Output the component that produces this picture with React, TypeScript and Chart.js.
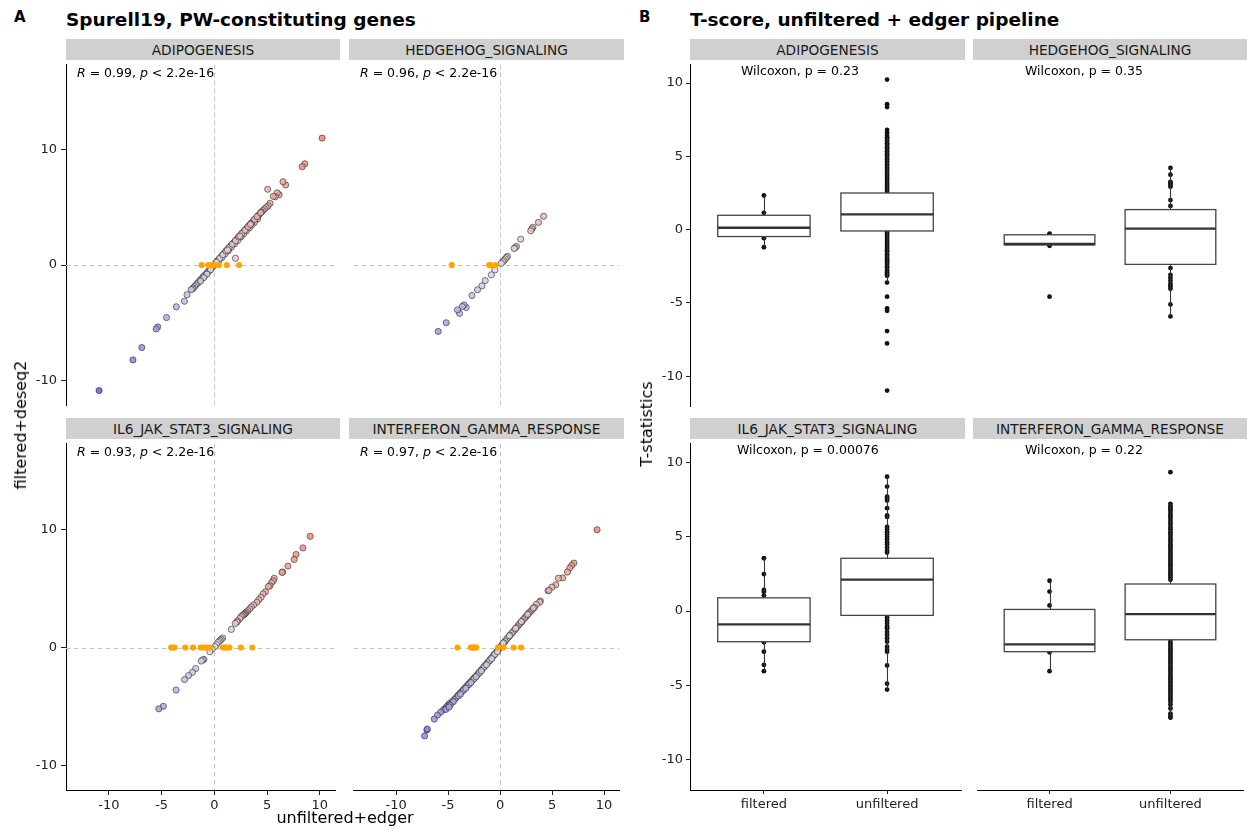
import React, { useEffect, useRef } from "react";
import { Chart, registerables } from "chart.js";
Chart.register(...registerables);

const FONT = "'DejaVu Sans', 'Liberation Sans', sans-serif";
const INK = "#222";

// ---------- labels ----------
const pathways = ["ADIPOGENESIS", "HEDGEHOG_SIGNALING", "IL6_JAK_STAT3_SIGNALING", "INTERFERON_GAMMA_RESPONSE"];
const corrR = ["0.99", "0.96", "0.93", "0.97"];
const wilcoxonP = ["0.23", "0.35", "0.00076", "0.22"];
const groupLabels = ["filtered", "unfiltered"];
const xTicksA = [-10, -5, 0, 5, 10];
const yTicksA = [-10, 0, 10];
const yTicksB = [-10, -5, 0, 5, 10];

// ---------- panel A: genes (unfiltered+edger t, filtered+deseq2 t) ----------
const adipoGenes: [number, number][] = [
  [10.22, 10.97], [8.58, 8.75], [8.33, 8.5], [6.76, 6.92], [6.51, 7.2], [6.14, 6.08], [5.96, 6.24], [5.78, 5.9], [5.59, 5.94], [5.06, 6.55],
  [5.28, 5.34], [5.1, 5.12], [4.92, 4.98], [4.75, 4.85], [4.6, 4.7], [4.45, 4.58], [4.32, 4.45], [4.2, 4.3], [4.08, 4.15], [3.95, 4.05],
  [3.85, 3.92], [3.72, 3.82], [3.6, 3.7], [3.5, 3.6], [3.38, 3.48], [3.25, 3.36], [3.15, 3.25], [3.05, 3.14], [2.95, 3.05], [2.85, 2.95],
  [2.75, 2.86], [2.65, 2.76], [2.55, 2.66], [2.46, 2.56], [2.36, 2.46], [2.26, 2.36], [2.16, 2.26], [2.06, 2.16], [1.96, 2.05], [1.86, 1.95],
  [1.76, 1.85], [1.66, 1.75], [1.56, 1.65], [1.46, 1.55], [1.36, 1.45], [1.26, 1.35], [1.16, 1.24], [1.06, 1.14], [0.96, 1.04], [0.86, 0.93],
  [0.76, 0.83], [0.66, 0.72], [0.56, 0.62], [0.46, 0.52], [0.36, 0.42], [0.26, 0.31], [0.16, 0.2], [0.06, 0.1],
  [4.1, 3.98], [3.8, 3.68], [3.55, 3.45], [3.3, 3.2], [3.02, 2.94], [2.78, 2.68], [2.5, 2.42], [2.22, 2.12], [1.92, 1.84], [1.62, 1.54],
  [1.32, 1.24], [1.02, 0.95], [0.72, 0.66], [0.42, 0.36],
  [0.5, 0.58], [0.8, 0.9], [1.1, 1.22], [1.4, 1.52], [1.7, 1.82], [2.0, 2.12], [2.3, 2.44], [2.6, 2.74], [2.9, 3.02], [3.2, 3.32],
  [3.5, 3.63], [3.8, 3.95], [4.05, 4.2], [4.4, 4.52], [0.2, 0.26], [1.25, 1.3], [2.42, 2.5], [3.42, 3.52],
  [2.0, 0.59],
  [-0.08, -0.06], [-0.18, -0.17], [-0.3, -0.28], [-0.4, -0.39], [-0.52, -0.5], [-0.62, -0.6], [-0.72, -0.71], [-0.84, -0.82], [-0.95, -0.93],
  [-1.05, -1.02], [-1.15, -1.12], [-1.28, -1.24], [-1.4, -1.35], [-1.52, -1.5], [-1.62, -1.6], [-1.75, -1.72], [-1.88, -1.85], [-2.0, -1.98],
  [-2.07, -2.05], [-2.2, -2.12], [-0.35, -0.4], [-0.7, -0.78], [-1.0, -1.08], [-1.3, -1.38],
  [-2.59, -2.56], [-2.84, -3.12], [-3.61, -3.6], [-4.54, -4.53], [-5.37, -5.34], [-5.52, -5.51], [-6.88, -7.12], [-7.72, -8.19], [-10.93, -10.83],
];
const adipoFiltered = [-1.2, -0.59, -0.3, -0.06, 0.43, 1.17, 2.35];

const hedgeGenes: [number, number][] = [
  [4.19, 4.22], [3.69, 3.69], [3.16, 3.27], [3.05, 3.12], [2.95, 2.96], [1.98, 2.24], [1.58, 1.62], [1.45, 1.5], [1.36, 1.43], [0.71, 0.76],
  [0.6, 0.65], [0.5, 0.53], [0.37, 0.39], [0.25, 0.28], [0.12, 0.15], [-0.5, -0.42], [-0.84, -0.84], [-1.43, -1.34], [-1.74, -1.79], [-2.17, -2.13],
  [-2.7, -2.63], [-3.26, -3.66], [-3.47, -3.44], [-3.63, -3.58], [-3.9, -4.17], [-4.09, -3.86], [-5.18, -4.98], [-5.95, -5.73],
];
const hedgeFiltered = [-4.65, -1.05, -0.92, -0.43];

const il6Genes: [number, number][] = [
  [9.09, 9.44], [8.4, 8.46], [7.75, 7.9], [7.57, 7.48], [6.98, 6.92], [6.48, 6.41], [6.42, 6.38], [5.67, 5.88], [5.58, 5.66], [5.42, 5.5],
  [5.27, 5.24], [5.12, 5.18], [4.84, 4.73], [4.62, 4.55], [4.43, 4.26], [4.2, 4.05], [4.03, 3.84], [3.72, 3.61], [3.5, 3.45], [3.35, 3.28],
  [3.18, 3.12], [3.04, 3.0], [2.95, 2.92], [2.88, 2.84], [2.8, 2.8], [2.73, 2.76], [2.62, 2.68], [2.52, 2.6], [2.4, 2.45], [2.2, 2.25],
  [2.14, 2.16], [1.98, 2.04], [1.61, 1.54], [0.78, 0.81], [0.66, 0.7], [0.56, 0.62], [0.45, 0.52], [0.34, 0.42], [0.2, 0.25], [0.06, 0.08],
  [-0.22, -0.14], [-0.43, -0.36], [-0.99, -1.01], [-1.1, -1.05], [-1.24, -1.15], [-1.77, -1.79], [-2.08, -2.1], [-2.45, -2.38], [-2.82, -2.72],
  [-3.63, -3.61], [-4.84, -4.99], [-5.27, -5.21],
];
const il6Filtered = [-4.09, -3.95, -3.78, -2.76, -2.02, -1.3, -1.05, -0.81, -0.43, 0.81, 1.02, 1.2, 1.43, 2.51, 3.6];

const ifngGenes: [number, number][] = [
  [9.33, 10.0], [7.1, 7.17], [6.88, 6.97], [6.7, 6.75], [6.48, 6.41], [6.02, 5.91], [5.61, 5.88], [5.36, 5.32], [4.99, 5.13], [4.62, 4.82],
  [4.7, 4.85], [3.88, 3.95], [3.8, 3.85], [3.5, 3.67], [3.3, 3.4], [3.13, 3.25], [3.0, 3.12], [2.85, 3.0], [2.73, 2.88], [2.6, 2.75],
  [2.48, 2.62], [2.36, 2.5], [2.22, 2.36], [2.1, 2.22], [1.98, 2.1], [1.85, 1.98], [1.72, 1.84], [1.6, 1.7], [1.48, 1.58], [1.35, 1.45],
  [1.22, 1.32], [1.1, 1.18], [0.96, 1.05], [0.85, 0.92], [0.72, 0.8], [0.6, 0.66], [0.48, 0.53], [0.36, 0.4], [0.24, 0.27], [0.12, 0.14],
  [0.02, 0.03], [-0.1, -0.12], [-0.22, -0.25], [-0.35, -0.38], [-0.48, -0.52], [-0.6, -0.65], [-0.72, -0.78], [-0.85, -0.92], [-0.98, -1.05],
  [-1.1, -1.18], [-1.22, -1.3], [-1.35, -1.44], [-1.48, -1.57], [-1.6, -1.7], [-1.72, -1.82], [-1.85, -1.96], [-1.98, -2.1], [-2.1, -2.22],
  [-2.22, -2.34], [-2.35, -2.46], [-2.48, -2.58], [-2.6, -2.7], [-2.72, -2.82], [-2.85, -2.95], [-2.98, -3.06], [-3.1, -3.18], [-3.22, -3.3],
  [-3.35, -3.42], [-3.48, -3.55], [-3.6, -3.66], [-3.72, -3.78], [-3.85, -3.9], [-3.98, -4.02], [-4.1, -4.12], [-4.25, -4.28], [-4.4, -4.42],
  [-4.55, -4.55], [-4.7, -4.68], [-4.85, -4.82], [-4.93, -4.79], [-5.0, -4.95], [-5.15, -5.04], [-5.3, -5.2], [-5.45, -5.3], [-5.71, -5.49],
  [-6.02, -5.74], [-6.33, -6.08], [-7.04, -7.0], [-7.0, -6.92], [-7.26, -7.51],
  [-0.5, -0.58], [-1.0, -1.12], [-1.5, -1.62], [-2.0, -2.16], [-2.5, -2.66], [-3.0, -3.14], [-3.5, -3.62], [-4.0, -4.1], [-4.5, -4.6],
  [-4.8, -4.9], [-5.2, -5.25], [-4.9, -5.05],
  [0.3, 0.38], [0.9, 1.0], [1.5, 1.63], [2.05, 2.2], [2.65, 2.82], [3.2, 3.36], [-0.25, -0.35], [-0.8, -0.95], [-1.3, -1.46],
  [-1.8, -1.98], [-2.3, -2.48], [-2.8, -2.98], [-3.3, -3.46], [-3.8, -3.95],
];
const ifngFiltered = [-4.09, -2.82, -2.67, -2.55, -2.45, -2.29, -0.19, 0.34, 1.3, 2.02];

// ---------- panel B: T-statistics by group ----------
const adipoFilteredPts = [2.33, 1.15, 0.55, 0.13, -0.3, -0.58, -1.2];
const adipoUnfilteredPts = [
  10.24, 8.56, 8.36, 6.8, 6.62, 6.45, 6.3, 6.18, 6.05, 5.9, 5.78, 5.62, 5.5, 5.35, 5.2, 5.08, 4.92, 4.8, 4.65, 4.5, 4.38, 4.22, 4.1, 3.95,
  3.8, 3.68, 3.52, 3.4, 3.25, 3.12, 2.98, 2.85, 2.7, 2.58, 2.2, 1.8, 1.4, 1.0, 0.6, 0.2, -0.12, -0.25, -0.4, -0.55, -0.7, -0.82, -0.98,
  -1.1, -1.25, -1.4, -1.52, -1.68, -1.8, -1.95, -2.08, -2.22, -2.35, -2.5, -2.62, -2.78, -2.9, -3.05, -3.15, -3.61, -4.57, -5.37, -5.54,
  -6.92, -7.76, -10.98,
];
const hedgeFilteredPts = [-0.27, -0.35, -0.98, -1.05, -1.1, -4.57];
const hedgeUnfilteredPts = [
  4.21, 3.75, 3.26, 3.15, 3.05, 2.93, 2.02, 1.62, 1.1, 0.6, 0.07, -0.5, -1.0, -1.5, -2.0, -2.62, -3.08, -3.28, -3.48, -3.7, -3.86, -4.04,
  -5.1, -5.92,
];
const il6FilteredPts = [3.55, 2.49, 1.42, 1.3, 1.04, 0.6, -0.43, -0.81, -1.05, -1.3, -2.1, -2.73, -3.62, -4.04];
const il6UnfilteredPts = [
  9.03, 8.37, 7.7, 7.59, 7.43, 6.92, 6.44, 6.33, 5.66, 5.48, 5.3, 5.15, 4.98, 4.82, 4.62, 4.48, 4.25, 4.05, 3.93, 3.0, 2.5, 2.1, 1.5, 0.8,
  0.2, -0.44, -0.62, -0.8, -0.98, -1.1, -1.18, -1.4, -1.6, -1.82, -2.06, -2.4, -2.6, -2.73, -3.66, -4.88, -5.28,
];
const ifngFilteredPts = [2.04, 1.31, 0.38, -0.19, -2.24, -2.29, -2.45, -2.67, -2.77, -4.04];
const ifngUnfilteredPts = [
  9.34, 7.21, 7.05, 6.9, 6.78, 6.6, 6.45, 6.3, 6.12, 5.95, 5.8, 5.62, 5.48, 5.3, 5.15, 4.98, 4.82, 4.66, 4.5, 4.35, 4.2, 4.04, 3.9, 3.75,
  3.6, 3.45, 3.3, 3.15, 3.0, 2.85, 2.7, 2.55, 2.4, 2.25, 2.1, 1.2, 0.5, -0.2, -0.9, -1.5, -2.06, -2.2, -2.35, -2.5, -2.65, -2.8, -2.95,
  -3.1, -3.25, -3.4, -3.55, -3.7, -3.85, -4.0, -4.15, -4.3, -4.45, -4.6, -4.75, -4.9, -5.05, -5.2, -5.35, -5.5, -5.65, -5.8, -5.95, -6.1,
  -6.3, -6.55, -6.9, -7.05, -7.17,
];

// box stats: [lower whisker, q1, median, q3, upper whisker]
const adipoFilteredBox = [-1.2, -0.47, 0.13, 0.98, 2.33];
const adipoUnfilteredBox = [-3.61, -0.09, 1.04, 2.5, 6.3];
const hedgeFilteredBox = [-1.1, -1.04, -0.98, -0.35, -0.27];
const hedgeUnfilteredBox = [-5.92, -2.37, 0.07, 1.37, 4.21];
const il6FilteredBox = [-4.04, -2.06, -0.89, 0.89, 3.55];
const il6UnfilteredBox = [-5.28, -0.29, 2.11, 3.55, 9.03];
const ifngFilteredBox = [-4.04, -2.73, -2.24, 0.11, 2.04];
const ifngUnfilteredBox = [-7.17, -1.93, -0.2, 1.82, 7.21];

// ---------- layout ----------
const colsA = [{ l: 66, w: 274 }, { l: 349, w: 275 }];
const colsB = [{ l: 690, w: 275 }, { l: 973, w: 274 }];
const rows = [{ t: 60, h: 350, s: 39 }, { t: 439, h: 351, s: 418 }];
const Y_W = 40;
const X_H = 26;

// ---------- helpers ----------
const LOW = [98, 92, 228];
const MID = [226, 222, 226];
const HIGH = [240, 120, 100];
function tColor(v: number) {
  const t = Math.max(-1, Math.min(1, v / 11));
  const end = t < 0 ? LOW : HIGH;
  const a = Math.abs(t);
  const c = MID.map((m, i) => Math.round(m + (end[i] - m) * a));
  return `rgba(${c[0]},${c[1]},${c[2]},0.85)`;
}

function axis(show: boolean, ticks: number[], size: number, horizontal: boolean, tickLen: number, pad: number, labels?: string[]) {
  return {
    type: "linear",
    display: show,
    afterBuildTicks: (s: any) => {
      s.ticks = ticks.map((v) => ({ value: v }));
    },
    afterFit: (s: any) => {
      const sz = show ? size : 0;
      if (horizontal) s.height = sz;
      else s.width = sz;
      s.paddingTop = 0;
      s.paddingBottom = 0;
      s.paddingLeft = 0;
      s.paddingRight = 0;
    },
    grid: { display: true, drawOnChartArea: false, drawTicks: true, tickLength: tickLen, tickColor: INK, tickWidth: 1 },
    border: { display: true, color: "#000", width: 1 },
    ticks: {
      color: INK,
      font: { family: FONT, size: 13 },
      padding: pad,
      autoSkip: false,
      maxRotation: 0,
      minRotation: 0,
      callback: (v: number) => (labels ? labels[Math.round(v) - 1] : String(v)),
    },
  };
}

const zeroLinePlugin = {
  id: "zeroLines",
  beforeDatasetsDraw(chart: any) {
    const { ctx, chartArea: a, scales } = chart;
    const px = scales.x.getPixelForValue(0);
    const py = scales.y.getPixelForValue(0);
    ctx.save();
    ctx.strokeStyle = "#c2c2c2";
    ctx.lineWidth = 1;
    ctx.setLineDash([4.5, 3.5]);
    ctx.beginPath();
    ctx.moveTo(a.left, Math.round(py) + 0.5);
    ctx.lineTo(a.right, Math.round(py) + 0.5);
    ctx.moveTo(Math.round(px) + 0.5, a.top);
    ctx.lineTo(Math.round(px) + 0.5, a.bottom);
    ctx.stroke();
    ctx.restore();
  },
};

function makeBoxPlugin(boxes: number[][]) {
  return {
    id: "boxes",
    afterDatasetsDraw(chart: any) {
      const { ctx, scales } = chart;
      const x = scales.x;
      const y = scales.y;
      boxes.forEach((b, i) => {
        const c = i + 1;
        const [lo, q1, med, q3, hi] = b;
        const xl = x.getPixelForValue(c - 0.375);
        const xr = x.getPixelForValue(c + 0.375);
        const xc = Math.round(x.getPixelForValue(c)) + 0.5;
        const yt = y.getPixelForValue(q3);
        const yb = y.getPixelForValue(q1);
        const ym = y.getPixelForValue(med);
        ctx.save();
        ctx.strokeStyle = "#333";
        ctx.lineWidth = 1.1;
        ctx.beginPath();
        ctx.moveTo(xc, y.getPixelForValue(hi));
        ctx.lineTo(xc, yt);
        ctx.moveTo(xc, yb);
        ctx.lineTo(xc, y.getPixelForValue(lo));
        ctx.stroke();
        ctx.fillStyle = "#fff";
        ctx.fillRect(xl, yt, xr - xl, yb - yt);
        ctx.strokeStyle = "#444";
        ctx.lineWidth = 1.3;
        ctx.strokeRect(xl, yt, xr - xl, yb - yt);
        ctx.strokeStyle = "#333";
        ctx.lineWidth = 2.3;
        ctx.beginPath();
        ctx.moveTo(xl, ym);
        ctx.lineTo(xr, ym);
        ctx.stroke();
        ctx.restore();
      });
    },
  };
}

function scatterConfig(genes: [number, number][], filtered: number[], showX: boolean, showY: boolean) {
  return {
    type: "scatter",
    data: {
      datasets: [
        {
          data: filtered.map((x) => ({ x, y: 0 })),
          pointRadius: 3.1,
          pointBackgroundColor: "#FFA500",
          pointBorderColor: "#FFA500",
          pointBorderWidth: 0,
        },
        {
          data: genes.map(([x, y]) => ({ x, y })),
          pointRadius: 3.1,
          pointBackgroundColor: (c: any) => tColor(c.raw ? c.raw.x : 0),
          pointBorderColor: "rgba(35,35,35,0.72)",
          pointBorderWidth: 0.8,
        },
      ],
    },
    options: {
      animation: false,
      responsive: false,
      events: [],
      layout: { padding: 0 },
      plugins: { legend: { display: false }, tooltip: { enabled: false } },
      scales: {
        x: { ...axis(showX, xTicksA, X_H, true, 5, 3), min: -14.07, max: 11.46 },
        y: { ...axis(showY, yTicksA, Y_W, false, 5, 4), min: -12.1, max: 17.3 },
      },
    },
    plugins: [zeroLinePlugin],
  };
}

function boxConfig(ptsF: number[], ptsU: number[], boxF: number[], boxU: number[], showX: boolean, showY: boolean) {
  return {
    type: "scatter",
    data: {
      datasets: [
        {
          data: [...ptsF.map((v) => ({ x: 1, y: v })), ...ptsU.map((v) => ({ x: 2, y: v }))],
          pointRadius: 2.4,
          pointBackgroundColor: "#111",
          pointBorderColor: "#111",
          pointBorderWidth: 0,
        },
      ],
    },
    options: {
      animation: false,
      responsive: false,
      events: [],
      layout: { padding: 0 },
      plugins: { legend: { display: false }, tooltip: { enabled: false } },
      scales: {
        x: { ...axis(showX, [1, 2], X_H, true, 4, 3, groupLabels), min: 0.4, max: 2.6 },
        y: { ...axis(showY, yTicksB, Y_W, false, 4, 3), min: -12.03, max: 11.3 },
      },
    },
    plugins: [makeBoxPlugin([boxF, boxU])],
  };
}

function ChartCanvas({ left, top, width, height, make }: { left: number; top: number; width: number; height: number; make: () => any }) {
  const ref = useRef<HTMLCanvasElement>(null);
  useEffect(() => {
    const chart = new Chart(ref.current as HTMLCanvasElement, make());
    return () => chart.destroy();
  }, []);
  return <canvas ref={ref} width={width} height={height} style={{ position: "absolute", left, top, width, height }} />;
}

function Txt({ x, base, size, bold, align = "left", children }: any) {
  const tx = align === "center" ? "translateX(-50%)" : "none";
  return (
    <div
      style={{
        position: "absolute",
        left: x,
        top: base - 0.846 * size,
        fontSize: size,
        lineHeight: `${size}px`,
        fontWeight: bold ? 700 : 400,
        whiteSpace: "nowrap",
        transform: tx,
        color: "#000",
      }}
    >
      {children}
    </div>
  );
}

function Strip({ l, w, t, label }: { l: number; w: number; t: number; label: string }) {
  return (
    <div
      style={{
        position: "absolute",
        left: l,
        top: t,
        width: w,
        height: 21,
        background: "#d0d0d0",
        display: "flex",
        alignItems: "center",
        justifyContent: "center",
        fontSize: 13.7,
        color: "#1a1a1a",
        whiteSpace: "nowrap",
      }}
    >
      {label}
    </div>
  );
}

const scatterData = [
  { genes: adipoGenes, filt: adipoFiltered },
  { genes: hedgeGenes, filt: hedgeFiltered },
  { genes: il6Genes, filt: il6Filtered },
  { genes: ifngGenes, filt: ifngFiltered },
];
const boxData = [
  { f: adipoFilteredPts, u: adipoUnfilteredPts, bf: adipoFilteredBox, bu: adipoUnfilteredBox },
  { f: hedgeFilteredPts, u: hedgeUnfilteredPts, bf: hedgeFilteredBox, bu: hedgeUnfilteredBox },
  { f: il6FilteredPts, u: il6UnfilteredPts, bf: il6FilteredBox, bu: il6UnfilteredBox },
  { f: ifngFilteredPts, u: ifngUnfilteredPts, bf: ifngFilteredBox, bu: ifngUnfilteredBox },
];
const wilcoxOffset = [51, 52, 47, 52];

export default function App() {
  const items: any[] = [];
  pathways.forEach((name, i) => {
    const col = i % 2;
    const row = Math.floor(i / 2);
    const r = rows[row];
    const showY = col === 0;
    const showX = row === 1;
    const a = colsA[col];
    items.push(
      <ChartCanvas
        key={"a" + i}
        left={a.l - (showY ? Y_W : 0)}
        top={r.t}
        width={a.w + (showY ? Y_W : 0)}
        height={r.h + (showX ? X_H : 0)}
        make={() => scatterConfig(scatterData[i].genes, scatterData[i].filt, showX, showY)}
      />
    );
    const b = colsB[col];
    items.push(
      <ChartCanvas
        key={"b" + i}
        left={b.l - (showY ? Y_W : 0)}
        top={r.t}
        width={b.w + (showY ? Y_W : 0)}
        height={r.h + (showX ? X_H : 0)}
        make={() => boxConfig(boxData[i].f, boxData[i].u, boxData[i].bf, boxData[i].bu, showX, showY)}
      />
    );
  });
  const overlays: any[] = [];
  pathways.forEach((name, i) => {
    const col = i % 2;
    const row = Math.floor(i / 2);
    const r = rows[row];
    const a = colsA[col];
    const b = colsB[col];
    overlays.push(<Strip key={"sa" + i} l={a.l} w={a.w} t={r.s} label={name} />);
    overlays.push(<Strip key={"sb" + i} l={b.l} w={b.w} t={r.s} label={name} />);
    overlays.push(
      <Txt key={"r" + i} x={a.l + 11} base={r.t + 17.7} size={12.5}>
        <i>R</i> = {corrR[i]}, <i>p</i> &lt; 2.2e-16
      </Txt>
    );
    overlays.push(
      <Txt key={"w" + i} x={b.l + wilcoxOffset[i]} base={r.t + 15.6} size={12.5}>
        Wilcoxon, p = {wilcoxonP[i]}
      </Txt>
    );
  });

  return (
    <div
      style={{
        position: "absolute",
        left: 0,
        top: 0,
        width: 1247,
        height: 832,
        background: "#fff",
        overflow: "hidden",
        fontFamily: FONT,
      }}
    >
      {items}
      {overlays}
      <Txt x={14} base={22.7} size={15} bold>
        A
      </Txt>
      <Txt x={66} base={26.7} size={18.5} bold>
        Spurell19, PW-constituting genes
      </Txt>
      <Txt x={639} base={22.7} size={15} bold>
        B
      </Txt>
      <Txt x={690} base={26.7} size={18.5} bold>
        T-score, unfiltered + edger pipeline
      </Txt>
      <Txt x={345} base={824} size={16} align="center">
        unfiltered+edger
      </Txt>
      <div
        style={{
          position: "absolute",
          left: 21,
          top: 425,
          transform: "translate(-50%,-50%) rotate(-90deg)",
          fontSize: 16,
          lineHeight: "16px",
          whiteSpace: "nowrap",
        }}
      >
        filtered+deseq2
      </div>
      <div
        style={{
          position: "absolute",
          left: 647,
          top: 424,
          transform: "translate(-50%,-50%) rotate(-90deg)",
          fontSize: 16,
          lineHeight: "16px",
          whiteSpace: "nowrap",
        }}
      >
        T-statistics
      </div>
    </div>
  );
}
